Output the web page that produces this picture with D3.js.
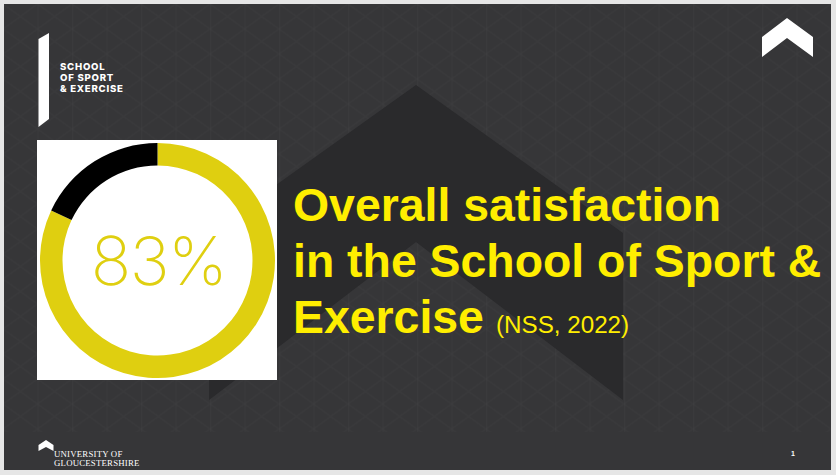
<!DOCTYPE html>
<html>
<head>
<meta charset="utf-8">
<script src="https://cdn.jsdelivr.net/npm/d3@7"></script>
<style>
  html, body { margin: 0; padding: 0; background: #e6e6e6; }
  svg { display: block; }
</style>
</head>
<body>
<svg id="chart"></svg>
<script>
// ring values
const ringNames = ["satisfied", "other"];
const ringValues = [82, 18];
const ringColors = ["#dfcf10", "#000000"];
const ringLabel = "83%";

const titleLines = ["Overall satisfaction", "in the School of Sport &", "Exercise"];
const titleNote = "(NSS, 2022)";
const schoolLines = ["SCHOOL", "OF SPORT", "& EXERCISE"];
const uniLines = ["UNIVERSITY OF", "GLOUCESTERSHIRE"];

const width = 836;
const height = 475;

const svg = d3.select("#chart")
  .attr("width", width)
  .attr("height", height)
  .attr("viewBox", [0, 0, width, height]);

// lattice texture on the slide, stops above the footer band
const pattern = svg.append("defs").append("pattern")
  .attr("id", "hatch")
  .attr("x", 3)
  .attr("y", 4)
  .attr("width", 34.5)
  .attr("height", 25)
  .attr("patternUnits", "userSpaceOnUse");

pattern.append("path")
  .attr("d", "M0,0L34.5,25M34.5,0L0,25")
  .attr("stroke", "#ffffff")
  .attr("stroke-opacity", 0.016)
  .attr("stroke-width", 1.4)
  .attr("fill", "none");

pattern.append("path")
  .attr("d", "M0.5,0V25")
  .attr("stroke", "#ffffff")
  .attr("stroke-opacity", 0.018)
  .attr("stroke-width", 1);

svg.append("rect")
  .attr("x", 4).attr("y", 4)
  .attr("width", 827).attr("height", 466)
  .attr("fill", "#363638");

svg.append("rect")
  .attr("x", 4).attr("y", 4)
  .attr("width", 827).attr("height", 428)
  .attr("fill", "url(#hatch)");

const polygon = points => "M" + points.join("L") + "Z";

// big background chevron
svg.append("path")
  .attr("d", polygon([[416, 85], [623, 233], [623, 400], [416, 242], [209, 400], [209, 233]]))
  .attr("fill", "#2a2a2c");

// logos
svg.append("path")
  .attr("d", polygon([[787, 18], [813, 37], [813, 57], [787, 38], [762, 57], [762, 37]]))
  .attr("fill", "#ffffff");

svg.append("path")
  .attr("d", polygon([[38.5, 39], [49, 33], [49, 119], [38.5, 127]]))
  .attr("fill", "#ffffff");

svg.append("path")
  .attr("d", polygon([[46, 440], [53.5, 445], [53.5, 451], [46, 447], [38.5, 451], [38.5, 445]]))
  .attr("fill", "#ffffff");

svg.append("g")
  .attr("font-family", "Inter, sans-serif")
  .attr("font-weight", 800)
  .attr("font-size", 9.6)
  .attr("letter-spacing", 0.75)
  .attr("fill", "#ffffff")
  .selectAll("text")
  .data(schoolLines)
  .join("text")
  .attr("x", 60)
  .attr("y", (d, i) => 70 + i * 11)
  .text(d => d);

svg.append("g")
  .attr("font-family", "Liberation Serif, serif")
  .attr("font-size", 8.8)
  .attr("letter-spacing", 0.2)
  .attr("fill", "#ffffff")
  .selectAll("text")
  .data(uniLines)
  .join("text")
  .attr("x", 54)
  .attr("y", (d, i) => 457 + i * 8.6)
  .text(d => d);

svg.append("text")
  .attr("x", 793).attr("y", 456)
  .attr("text-anchor", "middle")
  .attr("font-family", "Liberation Sans, sans-serif")
  .attr("font-weight", 700)
  .attr("font-size", 7)
  .attr("fill", "#ffffff")
  .text("1");

// ring panel
svg.append("rect")
  .attr("x", 37).attr("y", 140)
  .attr("width", 240).attr("height", 240)
  .attr("fill", "#ffffff");

const ring = svg.append("g")
  .attr("transform", "translate(157.5,260.5)");

const pie = d3.pie().sort(null).value((d, i) => ringValues[i]);
const arc = d3.arc().innerRadius(95).outerRadius(117.5);

ring.selectAll("path")
  .data(pie(ringNames))
  .join("path")
  .attr("d", arc)
  .attr("fill", (d, i) => ringColors[i]);

ring.append("text")
  .attr("x", 1)
  .attr("y", 24)
  .attr("text-anchor", "middle")
  .attr("font-family", "Inter, Roboto, sans-serif")
  .attr("font-weight", 200)
  .attr("font-size", 67)
  .attr("letter-spacing", -1.5)
  .attr("fill", ringColors[0])
  .text(ringLabel);

// title
const title = svg.append("g")
  .attr("font-family", "Liberation Sans, Arial, sans-serif")
  .attr("fill", "#ffee00");

title.selectAll("text")
  .data(titleLines)
  .join("text")
  .attr("x", 293)
  .attr("y", (d, i) => 221 + i * 56)
  .attr("font-weight", 700)
  .attr("font-size", 46.4)
  .text(d => d);

title.append("text")
  .attr("x", 496)
  .attr("y", 333)
  .attr("font-size", 24.2)
  .text(titleNote);
</script>
</body>
</html>
